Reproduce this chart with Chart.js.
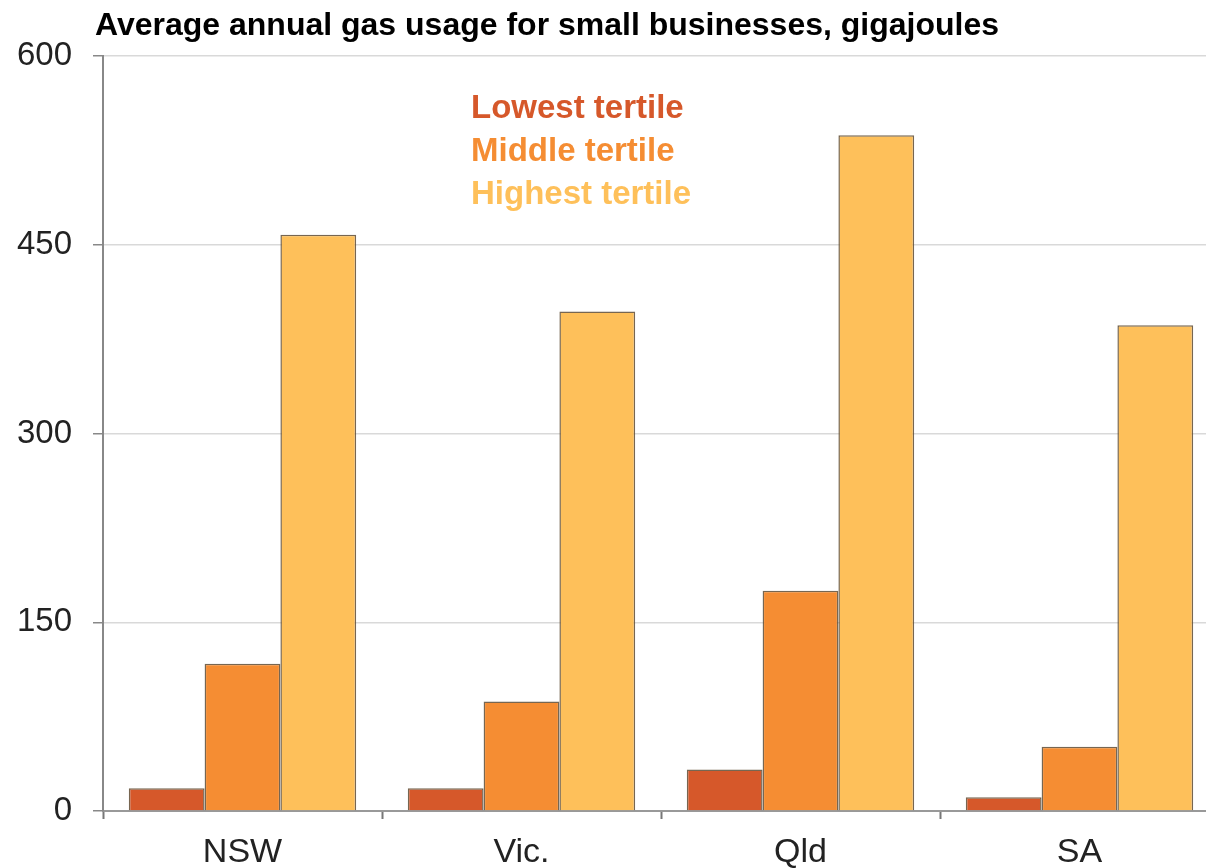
<!DOCTYPE html>
<html>
<head>
<meta charset="utf-8">
<script src="https://cdn.jsdelivr.net/npm/chart.js@4"></script>
<style>
    html, body { margin: 0; padding: 0; background: #fff; overflow: hidden; }
    #wrap { position: absolute; left: 0; top: 0; width: 1220px; height: 868px; }
</style>
</head>
<body>
<div id="wrap"><canvas id="gasChart" width="1220" height="868"></canvas></div>
<script>
const categories = ["NSW", "Vic.", "Qld", "SA"];
const lowestTertile = [18, 18, 33, 11];
const middleTertile = [117, 87, 175, 51];
const highestTertile = [458, 397, 537, 386];
const yTicks = [0, 150, 300, 450, 600];
const chartTitle = "Average annual gas usage for small businesses, gigajoules";

const FONT = "'Liberation Sans', Arial, sans-serif";

// title drawn at the top left, legend as coloured text inside the plot
const textPlugin = {
    id: "textPlugin",
    afterDraw(chart) {
        const ctx = chart.ctx;
        ctx.save();
        ctx.textAlign = "left";
        ctx.textBaseline = "alphabetic";
        ctx.fillStyle = "#000";
        ctx.font = "bold 32px " + FONT;
        ctx.fillText(chartTitle, 95, 35);

        ctx.font = "bold 33px " + FONT;
        chart.data.datasets.forEach(function (ds, i) {
            ctx.fillStyle = ds.backgroundColor;
            ctx.fillText(ds.label, 471, 118 + i * 43);
        });
        ctx.restore();
    }
};

const ctx = document.getElementById("gasChart").getContext("2d");
new Chart(ctx, {
    type: "bar",
    data: {
        labels: categories,
        datasets: [{
            label: "Lowest tertile",
            data: lowestTertile,
            backgroundColor: "#D6582A"
        }, {
            label: "Middle tertile",
            data: middleTertile,
            backgroundColor: "#F58D33"
        }, {
            label: "Highest tertile",
            data: highestTertile,
            backgroundColor: "#FEC05A"
        }]
    },
    options: {
        responsive: false,
        animation: false,
        devicePixelRatio: 1,
        layout: { padding: { top: 56, right: 1, left: 0, bottom: 0 } },
        datasets: {
            bar: {
                categoryPercentage: 0.815,
                barPercentage: 1.0,
                borderColor: "rgba(95, 75, 50, 0.85)",
                borderWidth: 1.5
            }
        },
        plugins: {
            legend: { display: false },
            title: { display: false },
            tooltip: { enabled: false }
        },
        scales: {
            x: {
                grid: {
                    drawOnChartArea: false,
                    drawTicks: true,
                    tickLength: 8,
                    tickColor: "#777",
                    tickWidth: 2
                },
                border: { color: "#999", width: 2 },
                ticks: {
                    color: "#222",
                    font: { family: FONT, size: 34 },
                    padding: 13
                },
                afterFit(scale) { scale.height = 57; }
            },
            y: {
                min: 0,
                max: 600,
                afterBuildTicks(scale) {
                    scale.ticks = yTicks.map(function (v) { return { value: v }; });
                },
                grid: {
                    color: "#d9d9d9",
                    lineWidth: 1.5,
                    tickColor: "#888",
                    tickLength: 10
                },
                border: { color: "#888", width: 2 },
                ticks: {
                    color: "#222",
                    font: { family: FONT, size: 33 },
                    padding: 21
                },
                afterFit(scale) { scale.width = 103; }
            }
        }
    },
    plugins: [textPlugin]
});
</script>
</body>
</html>
